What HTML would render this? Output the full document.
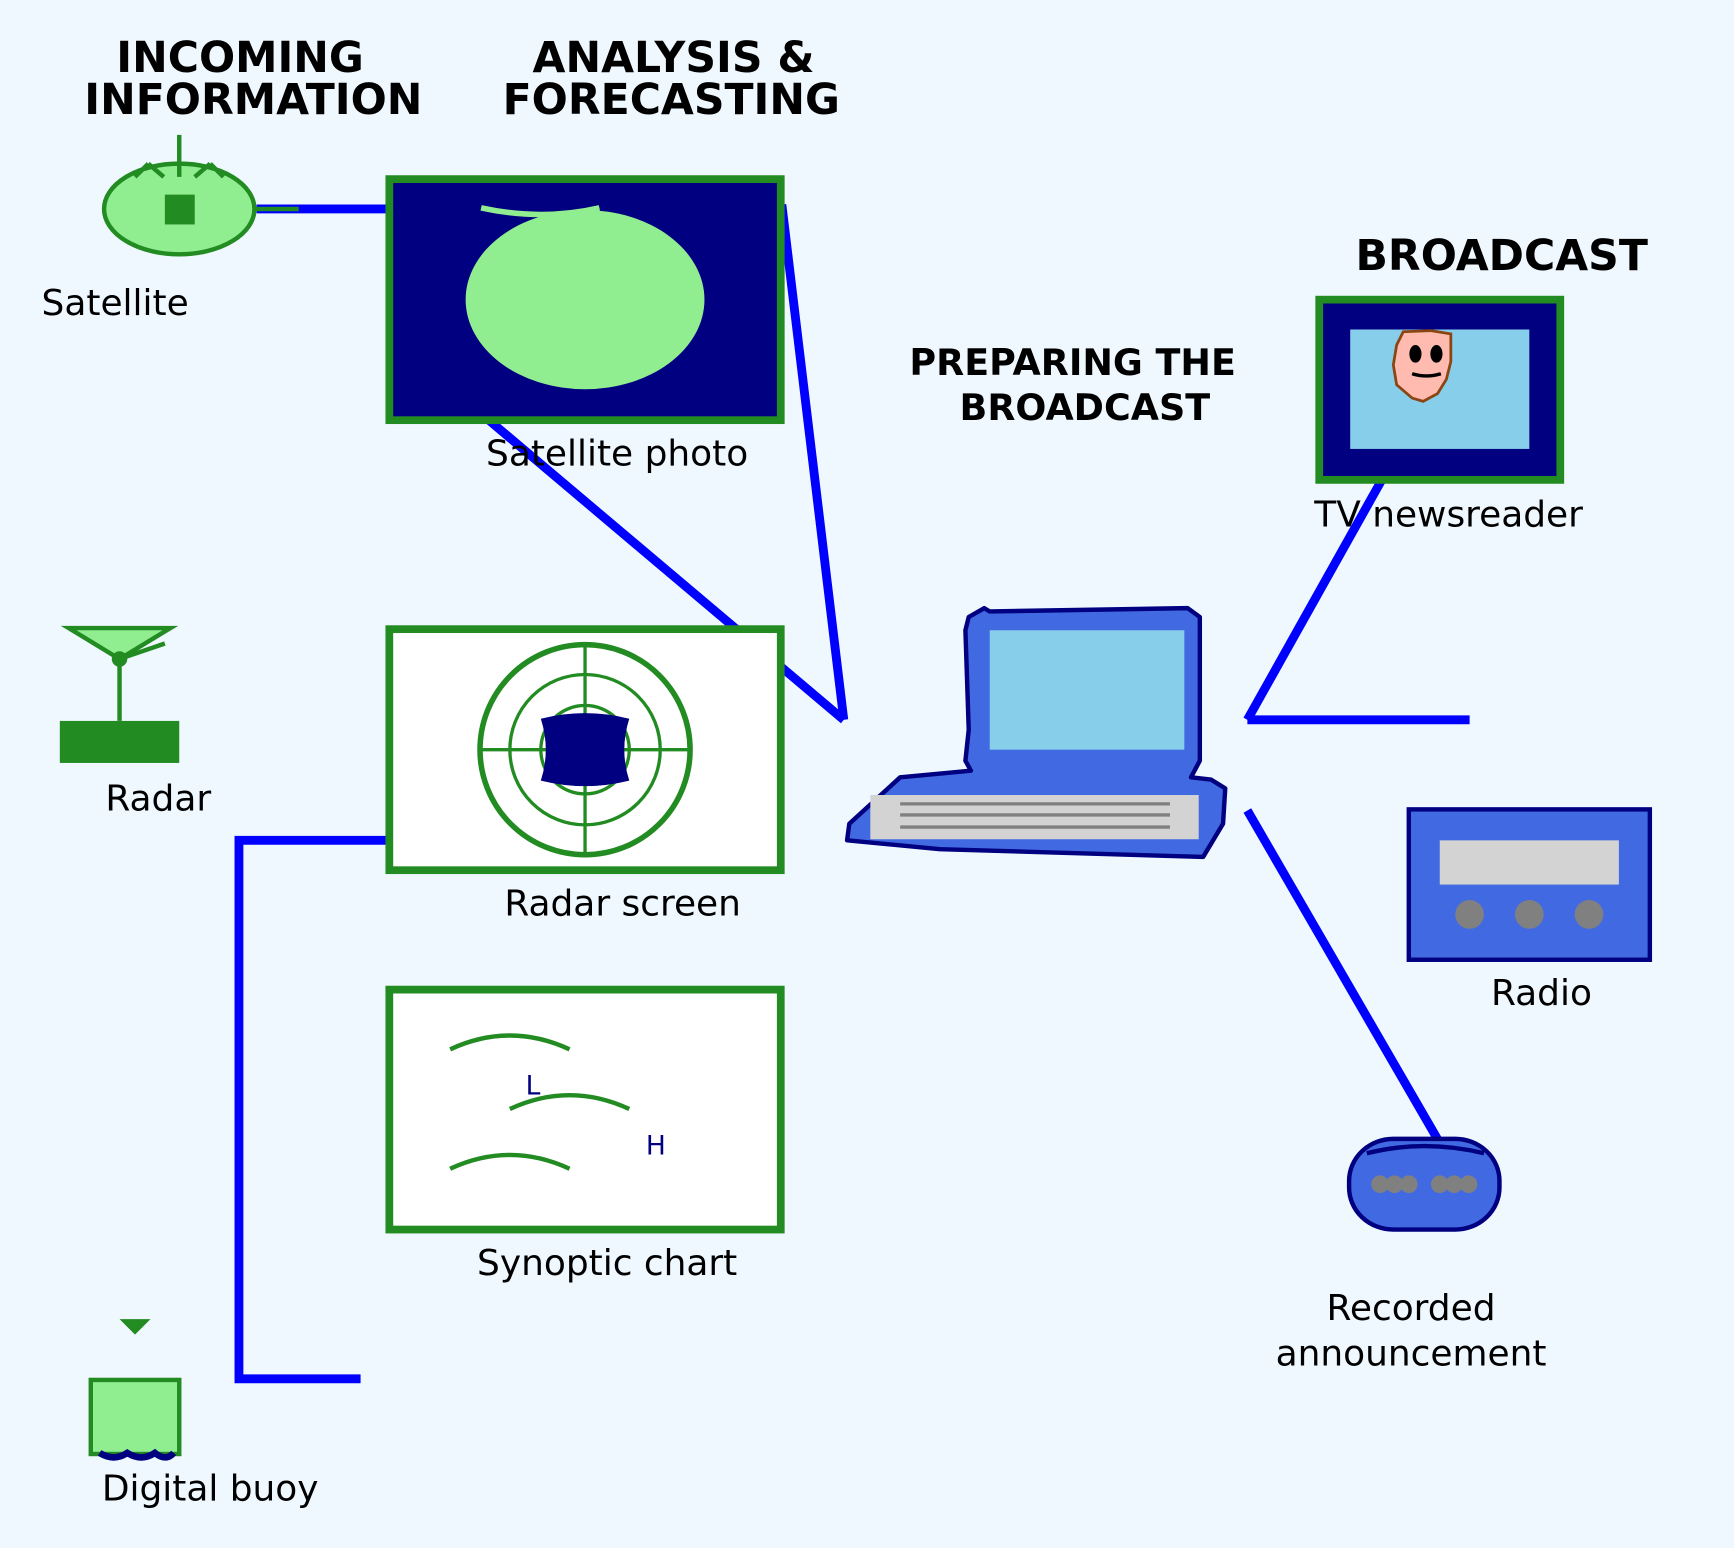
<!DOCTYPE html>
<html><head><meta charset="utf-8"><style>
html,body{margin:0;padding:0;background:#F0F8FF;}
svg{display:block;}
text{font-family:"DejaVu Sans","Liberation Sans",sans-serif;}
</style></head><body>
<svg width="1734" height="1548" viewBox="0 0 1568 1400" xmlns="http://www.w3.org/2000/svg">
<rect width="1568" height="1400" fill="#F0F8FF"/>
<g font-weight="bold" font-size="38.5" fill="#000" text-anchor="middle">
<text x="217" y="65">INCOMING</text>
<text x="229" y="103">INFORMATION</text>
<text x="609" y="65">ANALYSIS &amp;</text>
<text x="607" y="103">FORECASTING</text>
<text x="1358" y="244">BROADCAST</text>
</g>
<g font-weight="bold" font-size="33" fill="#000" text-anchor="middle">
<text x="970" y="339">PREPARING THE</text>
<text x="981" y="380">BROADCAST</text>
</g>
<g stroke="#0000FF" stroke-width="8" fill="none">
<line x1="232" y1="189" x2="352" y2="189"/>
<line x1="707" y1="185" x2="763" y2="651"/>
<line x1="442" y1="380" x2="763" y2="651"/>
<polyline points="352,760 216,760 216,1247 326,1247"/>
<line x1="1128" y1="651" x2="1249" y2="435"/>
<line x1="1128" y1="651" x2="1329" y2="651"/>
<line x1="1128" y1="733" x2="1301" y2="1032"/>
</g>
<ellipse cx="162" cy="189" rx="68" ry="41" fill="#90EE90" stroke="#228B22" stroke-width="4"/>
<rect x="149" y="176" width="27" height="27" fill="#228B22"/>
<g stroke="#228B22" stroke-width="4">
<line x1="162" y1="122" x2="162" y2="160"/>
<line x1="122" y1="160" x2="134" y2="148"/><line x1="134" y1="148" x2="148" y2="160"/>
<line x1="176" y1="160" x2="190" y2="148"/><line x1="190" y1="148" x2="202" y2="160"/>
<line x1="230" y1="189" x2="270" y2="189"/>
</g>
<g font-size="32.5" text-anchor="middle" fill="#000">
<text x="104" y="285">Satellite</text>
<text x="558" y="421">Satellite photo</text>
<text x="143" y="733">Radar</text>
<text x="563" y="828">Radar screen</text>
<text x="549" y="1153">Synoptic chart</text>
<text x="190" y="1357">Digital buoy</text>
<text x="1310" y="476">TV newsreader</text>
<text x="1394" y="909">Radio</text>
<text x="1276" y="1194">Recorded</text>
<text x="1276" y="1235">announcement</text>
</g>
<rect x="352" y="162" width="354" height="218" fill="#000080" stroke="#228B22" stroke-width="7"/>
<ellipse cx="529" cy="271" rx="108" ry="81" fill="#90EE90"/>
<path d="M435,188 Q490,200 542,188" stroke="#90EE90" stroke-width="5" fill="none"/>
<polygon points="62,568 154,568 108,596" fill="#90EE90" stroke="#228B22" stroke-width="4"/>
<line x1="108" y1="596" x2="149" y2="582" stroke="#228B22" stroke-width="4"/>
<circle cx="108" cy="596" r="7" fill="#228B22"/>
<line x1="108" y1="596" x2="108" y2="652" stroke="#228B22" stroke-width="4"/>
<rect x="54" y="652" width="108" height="38" fill="#228B22"/>
<rect x="352" y="569" width="354" height="218" fill="#fff" stroke="#228B22" stroke-width="7"/>
<g stroke="#228B22" fill="none">
<circle cx="529" cy="678" r="95" stroke-width="5"/>
<circle cx="529" cy="678" r="68" stroke-width="3"/>
<circle cx="529" cy="678" r="40" stroke-width="3"/>
<line x1="434" y1="678" x2="624" y2="678" stroke-width="3"/>
<line x1="529" y1="583" x2="529" y2="773" stroke-width="3"/>
</g>
<path d="M489,650 Q529,640 569,650 Q560,678 569,706 Q529,716 489,706 Q498,678 489,650Z" fill="#000080"/>
<rect x="352" y="895" width="354" height="217" fill="#fff" stroke="#228B22" stroke-width="7"/>
<g stroke="#228B22" stroke-width="4" fill="none">
<path d="M407,949 Q461,924 515,949"/>
<path d="M461,1003 Q515,978 569,1003"/>
<path d="M407,1057 Q461,1032 515,1057"/>
</g>
<text x="482" y="990" font-size="24" fill="#000080" text-anchor="middle">L</text>
<text x="593" y="1044" font-size="24" fill="#000080" text-anchor="middle">H</text>
<polygon points="108,1193 136,1193 122,1207" fill="#228B22"/>
<rect x="82" y="1248" width="80" height="67" fill="#90EE90" stroke="#228B22" stroke-width="4"/>
<path d="M90,1314 Q103,1322 115,1314 Q128,1322 140,1314 Q150,1322 157,1314" stroke="#000080" stroke-width="6" fill="none"/>
<polygon points="766,760 768,745 814,703 878,697 873,688 876,660 873,570 876,558 890,550 895,553 1074,550 1085,558 1085,688 1077,703 1095,705 1108,713 1106,745 1088,775 850,768" fill="#4169E1" stroke="#000080" stroke-width="4" stroke-linejoin="round"/>
<rect x="895" y="570" width="176" height="108" fill="#87CEEB"/>
<rect x="787" y="719" width="297" height="40" fill="#D3D3D3"/>
<g stroke="#808080" stroke-width="3">
<line x1="814" y1="727" x2="1058" y2="727"/>
<line x1="814" y1="737" x2="1058" y2="737"/>
<line x1="814" y1="748" x2="1058" y2="748"/>
</g>
<rect x="1193" y="271" width="218" height="163" fill="#000080" stroke="#228B22" stroke-width="7"/>
<rect x="1221" y="298" width="162" height="108" fill="#87CEEB"/>
<path d="M1269,300 L1294,299 L1312,302 L1312,327 L1308,343 L1300,356 L1287,363 L1277,360 L1263,348 L1260,330 L1263,312 Z" fill="#FFBBAF" stroke="#8B4513" stroke-width="2.5"/>
<ellipse cx="1280" cy="320" rx="5.5" ry="8" fill="#000"/>
<ellipse cx="1299" cy="320" rx="5.5" ry="8" fill="#000"/>
<path d="M1277,338 Q1290,342 1303,338" stroke="#000" stroke-width="3" fill="none"/>
<rect x="1274" y="732" width="218" height="136" fill="#4169E1" stroke="#000080" stroke-width="4"/>
<rect x="1302" y="760" width="162" height="40" fill="#D3D3D3"/>
<circle cx="1329" cy="827" r="13" fill="#808080"/>
<circle cx="1383" cy="827" r="13" fill="#808080"/>
<circle cx="1437" cy="827" r="13" fill="#808080"/>
<rect x="1220" y="1030" width="136" height="82" rx="40" ry="38" fill="#4169E1" stroke="#000080" stroke-width="4"/>
<path d="M1236,1043 Q1288,1030 1342,1043" stroke="#000080" stroke-width="4" fill="none"/>
<g fill="#808080">
<circle cx="1248" cy="1071" r="8"/><circle cx="1261" cy="1071" r="8"/><circle cx="1274" cy="1071" r="8"/>
<circle cx="1302" cy="1071" r="8"/><circle cx="1315" cy="1071" r="8"/><circle cx="1328" cy="1071" r="8"/>
</g>
</svg>
</body></html>
